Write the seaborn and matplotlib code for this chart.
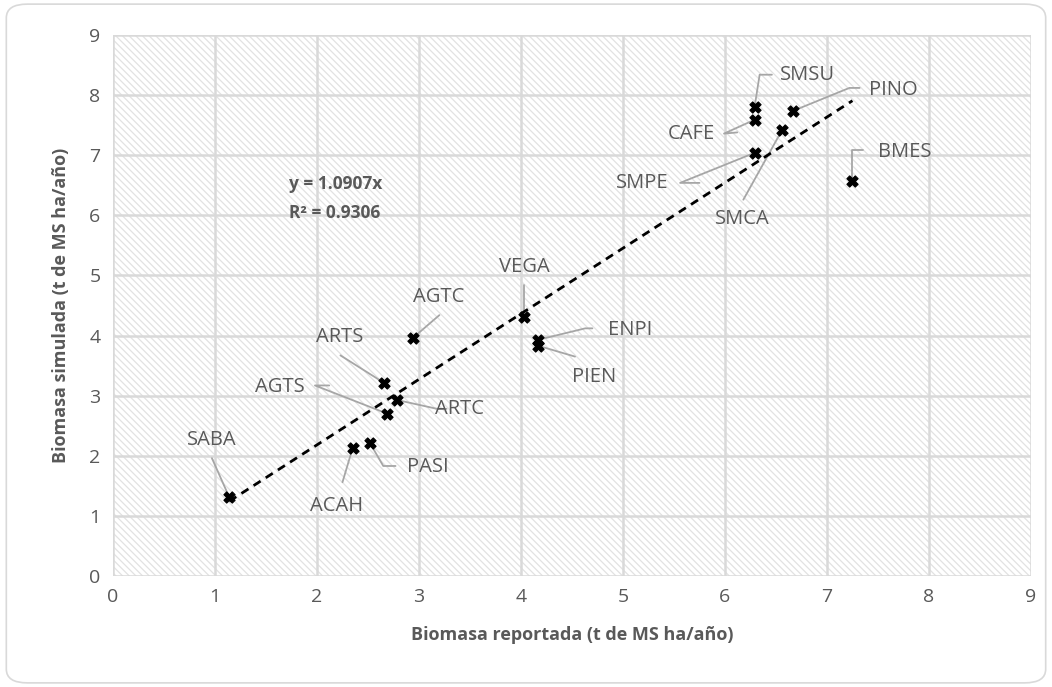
import numpy as np
import pandas as pd
import matplotlib
matplotlib.use("Agg")
import matplotlib.pyplot as plt
import seaborn as sns
from matplotlib.patches import Rectangle, FancyBboxPatch

# ---- data ----
codes = ["SABA", "ACAH", "PASI", "AGTS", "ARTS", "ARTC", "AGTC", "VEGA",
         "ENPI", "PIEN", "SMPE", "SMSU", "CAFE", "SMCA", "PINO", "BMES"]
reported = [1.14, 2.35, 2.52, 2.69, 2.66, 2.78, 2.94, 4.03,
            4.17, 4.17, 6.29, 6.29, 6.29, 6.56, 6.67, 7.25]
simulated = [1.31, 2.13, 2.21, 2.70, 3.21, 2.93, 3.96, 4.31,
             3.93, 3.83, 7.04, 7.80, 7.59, 7.42, 7.74, 6.57]
slope = 1.0907
r2 = 0.9306
x_ticks = list(range(0, 10))
y_ticks = list(range(0, 10))

# label positions (text centre) and elbow points for leader lines
label_pos = {
    "SABA": (0.97, 2.26), "ACAH": (2.19, 1.16), "PASI": (3.09, 1.81),
    "AGTS": (1.64, 3.14), "ARTS": (2.22, 3.97), "ARTC": (3.40, 2.77),
    "AGTC": (3.19, 4.64), "VEGA": (4.03, 5.14), "ENPI": (5.07, 4.10),
    "PIEN": (4.72, 3.31), "SMPE": (5.19, 6.54), "SMSU": (6.81, 8.34),
    "CAFE": (5.67, 7.36), "SMCA": (6.17, 5.94), "PINO": (7.65, 8.09),
    "BMES": (7.76, 7.06),
}
leaders = {
    "SABA": [(0.97, 1.96)],
    "ACAH": [(2.25, 1.56)],
    "PASI": [(2.65, 1.83), (2.77, 1.83)],
    "AGTS": [(1.98, 3.17), (2.12, 3.17)],
    "ARTS": [(2.23, 3.67)],
    "ARTC": [(3.18, 2.78), (3.27, 2.78)],
    "AGTC": [(3.20, 4.34)],
    "VEGA": [(4.03, 4.84)],
    "ENPI": [(4.63, 4.12), (4.70, 4.12)],
    "PIEN": [(4.53, 3.65)],
    "SMPE": [(5.56, 6.54), (5.75, 6.54)],
    "SMSU": [(6.34, 8.34), (6.46, 8.34)],
    "CAFE": [(5.99, 7.36), (6.12, 7.38)],
    "SMCA": [(6.18, 6.26)],
    "PINO": [(7.22, 8.12), (7.32, 8.12)],
    "BMES": [(7.25, 7.08), (7.35, 7.08)],
}

df = pd.DataFrame({"reported": reported, "simulated": simulated, "code": codes})

# ---- style ----
sns.set_style("white")
plt.rcParams["font.family"] = ["Open Sans", "DejaVu Sans"]
plt.rcParams["hatch.linewidth"] = 0.9

txt = "#595959"
grid_c = "#d9d9d9"

fig = plt.figure(figsize=(10.52, 6.87), dpi=100)
fig.patches.append(FancyBboxPatch((0.006, 0.006), 0.988, 0.988,
                                  boxstyle="round,pad=0,rounding_size=0.02",
                                  transform=fig.transFigure, fc="white",
                                  ec="#d9d9d9", lw=1.2, zorder=-10))
ax = fig.add_axes([0.1074, 0.1616, 0.8726, 0.7874])
ax.set_facecolor("none")

ax.add_patch(Rectangle((0, 0), 1, 1, transform=ax.transAxes, fc="white",
                       ec="#e2e2e2", hatch="\\" * 5, lw=0.5, zorder=0))

ax.set_xlim(0, 9)
ax.set_ylim(0, 9)
ax.set_xticks(x_ticks)
ax.set_yticks(y_ticks)
ax.grid(True, color=grid_c, lw=1.8, zorder=1)
ax.set_axisbelow(True)
for s in ax.spines.values():
    s.set_visible(False)
ax.tick_params(length=0, labelsize=14, labelcolor=txt, pad=9)

# trendline
xl = np.array([min(reported), max(reported)])
sns.lineplot(x=xl, y=slope * xl, ax=ax, color="black", lw=2,
             linestyle=(0, (3, 2.2)), zorder=3)

# leader lines
for c, xr, ys in zip(codes, reported, simulated):
    pts = [(xr, ys)] + leaders[c]
    xs_, ys_ = zip(*pts)
    ax.plot(xs_, ys_, color="#a6a6a6", lw=1.3, zorder=2)
    lx, ly = label_pos[c]
    ax.text(lx, ly, c, ha="center", va="center", fontsize=14.5, color=txt, zorder=5)

sns.scatterplot(data=df, x="reported", y="simulated", ax=ax, marker="X",
                s=65, color="black", edgecolor="black", linewidth=0.8, zorder=4)

ax.text(1.73, 6.52, f"y = {slope}x", fontsize=12.5, fontweight="bold", color=txt,
        ha="left", va="center")
ax.text(1.73, 6.04, f"R² = {r2}", fontsize=12.5, fontweight="bold", color=txt,
        ha="left", va="center")

ax.set_xlabel("Biomasa reportada (t de MS ha/año)", fontsize=13,
              fontweight="bold", color=txt, labelpad=14)
ax.set_ylabel("Biomasa simulada (t de MS ha/año)", fontsize=13,
              fontweight="bold", color=txt, labelpad=14)

fig.savefig("out.png", dpi=100)
